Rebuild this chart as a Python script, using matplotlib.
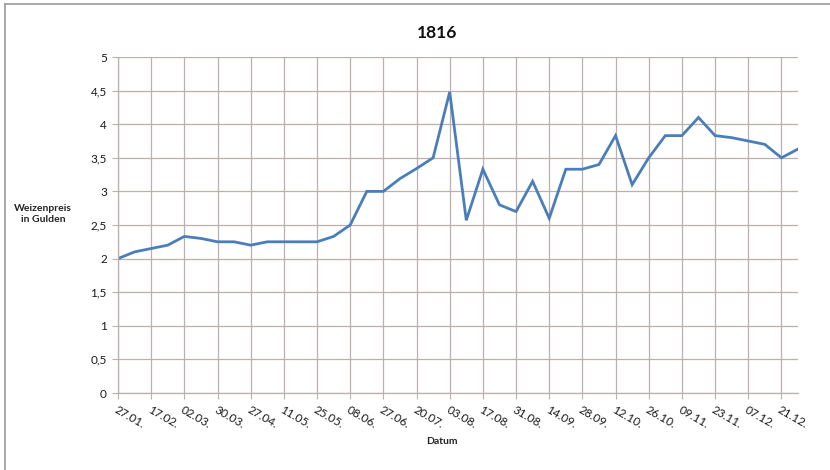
import numpy as np
import matplotlib.pyplot as plt
from matplotlib.lines import Line2D

plt.rcParams.update({
    "font.family": ["Lato", "DejaVu Sans"],
    "font.size": 8,
})

LINE_COLOR = "#4a7ebb"
GRID_COLOR = "#bcb0ae"

# wheat price per observation (every 2nd one gets a date label)
prices = [
    2.0, 2.1, 2.15, 2.2, 2.33, 2.3, 2.25, 2.25, 2.2, 2.25,
    2.25, 2.25, 2.25, 2.33, 2.5, 3.0, 3.0, 3.19, 3.34, 3.5,
    4.48, 2.57, 3.33, 2.8, 2.7, 3.15, 2.6, 3.33, 3.33, 3.4,
    3.83, 3.1, 3.5, 3.83, 3.83, 4.1, 3.83, 3.8, 3.75, 3.7,
    3.5, 3.63,
]
tick_labels = [
    "27.01.", "17.02.", "02.03.", "30.03.", "27.04.", "11.05.", "25.05.",
    "08.06.", "27.06.", "20.07.", "03.08.", "17.08.", "31.08.", "14.09.",
    "28.09.", "12.10.", "26.10.", "09.11.", "23.11.", "07.12.", "21.12.",
]
y_ticks = [0, 0.5, 1, 1.5, 2, 2.5, 3, 3.5, 4, 4.5, 5]
y_tick_labels = ["0", "0,5", "1", "1,5", "2", "2,5", "3", "3,5", "4", "4,5", "5"]

W, H = 830, 470
fig = plt.figure(figsize=(W / 100, H / 100), dpi=100)
ax = fig.add_axes([118 / W, 1 - 393 / H, (798 - 118) / W, (393 - 57) / H])

x = np.arange(len(prices))
ax.plot(x, prices, color=LINE_COLOR, linewidth=2.0, solid_joinstyle="miter")

ax.set_xlim(0, len(prices) - 1)
ax.set_ylim(0, 5)
ax.set_xticks(x[::2])
ax.set_xticklabels(tick_labels, rotation=-30, ha="left", va="top",
                   rotation_mode="anchor", color="#1a1a1a", fontsize=8.5)
ax.set_yticks(y_ticks)
ax.set_yticklabels(y_tick_labels, color="#1a1a1a", fontsize=8.5)

ax.grid(True, color=GRID_COLOR, linewidth=0.9)
ax.set_axisbelow(True)
for side in ["top", "right"]:
    ax.spines[side].set_visible(False)
for side in ["left", "bottom"]:
    ax.spines[side].set_color(GRID_COLOR)
    ax.spines[side].set_linewidth(0.9)
ax.tick_params(axis="both", length=4, color=GRID_COLOR, pad=4)
ax.tick_params(axis="x", pad=4)

fig.text(437 / W, 1 - 33 / H, "1816", ha="center", va="center",
         fontsize=12.5, fontweight="bold", color="#111111")
fig.text(43 / W, 1 - 214 / H, "Weizenpreis\nin Gulden", ha="center", va="center",
         fontsize=7.5, fontweight="bold", color="#222222", linespacing=1.4)
fig.text(442 / W, 1 - 442 / H, "Datum", ha="center", va="center",
         fontsize=7.5, fontweight="bold", color="#222222")

# chart frame (only top and left edges visible in the crop)
fig.add_artist(Line2D([5 / W, 1], [1 - 4 / H, 1 - 4 / H], color="#9a9a9a", linewidth=1.2))
fig.add_artist(Line2D([5 / W, 5 / W], [0, 1 - 4 / H], color="#9a9a9a", linewidth=1.2))

fig.savefig("out.png", dpi=100)
